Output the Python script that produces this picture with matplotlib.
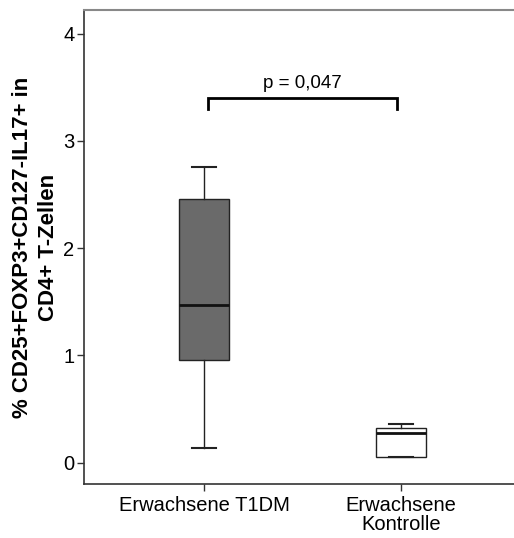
import matplotlib
matplotlib.use("Agg")
import matplotlib.pyplot as plt

# box statistics
groups = ["Erwachsene T1DM", "Erwachsene\nKontrolle"]
whisker_low = [0.14, 0.05]
q1 = [0.955, 0.05]
median = [1.47, 0.275]
q3 = [2.46, 0.325]
whisker_high = [2.76, 0.355]
box_colors = ["#6a6a6a", "white"]

p_text = "p = 0,047"
bracket_y = 3.40
bracket_drop = 0.10
yticks = [0, 1, 2, 3, 4]

plt.rcParams["font.family"] = ["Liberation Sans", "DejaVu Sans"]

fig = plt.figure(figsize=(5.14, 5.38), dpi=100)
ax = fig.add_axes([0.1634, 0.1004, 0.8366, 0.881])

stats = []
for i, name in enumerate(groups):
    stats.append(dict(label=name, whislo=whisker_low[i], q1=q1[i], med=median[i],
                      q3=q3[i], whishi=whisker_high[i], fliers=[]))

positions = [1, 2]
bp = ax.bxp(stats, positions=positions, widths=0.25, patch_artist=True,
            capwidths=0.125, showfliers=False,
            boxprops=dict(edgecolor="#222222", linewidth=1.0),
            whiskerprops=dict(color="#222222", linewidth=1.0),
            capprops=dict(color="#222222", linewidth=1.5),
            medianprops=dict(color="#111111", linewidth=2.0))
for patch, c in zip(bp["boxes"], box_colors):
    patch.set_facecolor(c)

# significance bracket
bx = [positions[0] + 0.02, positions[1] - 0.02]
ax.plot([bx[0], bx[0], bx[1], bx[1]],
        [bracket_y - bracket_drop, bracket_y, bracket_y, bracket_y - bracket_drop],
        color="black", linewidth=2.0, solid_joinstyle="miter")
ax.text(sum(positions) / 2, bracket_y + 0.06, p_text, ha="center", va="bottom",
        fontsize=13.5)

ax.set_xlim(0.391, 2.574)
ax.set_ylim(-0.2, 4.22)
ax.set_yticks(yticks)
ax.set_yticklabels([str(t) for t in yticks])
ax.tick_params(axis="both", labelsize=14.5, length=5, width=1.0, color="#333333",
               direction="out")
ax.tick_params(axis="x", pad=4)
ax.tick_params(axis="y", pad=2)
for lab in ax.get_xticklabels():
    lab.set_linespacing(1.0)

for side in ["left", "bottom"]:
    ax.spines[side].set_color("#333333")
    ax.spines[side].set_linewidth(1.2)
ax.spines["top"].set_color("#888888")
ax.spines["top"].set_linewidth(1.5)
ax.spines["right"].set_visible(False)

ax.set_ylabel("% CD25+FOXP3+CD127-IL17+ in\nCD4+ T-Zellen", fontsize=16,
              fontweight="bold", linespacing=1.3)
ax.yaxis.set_label_coords(-0.058, 0.5)

fig.savefig("out.png", dpi=100)
